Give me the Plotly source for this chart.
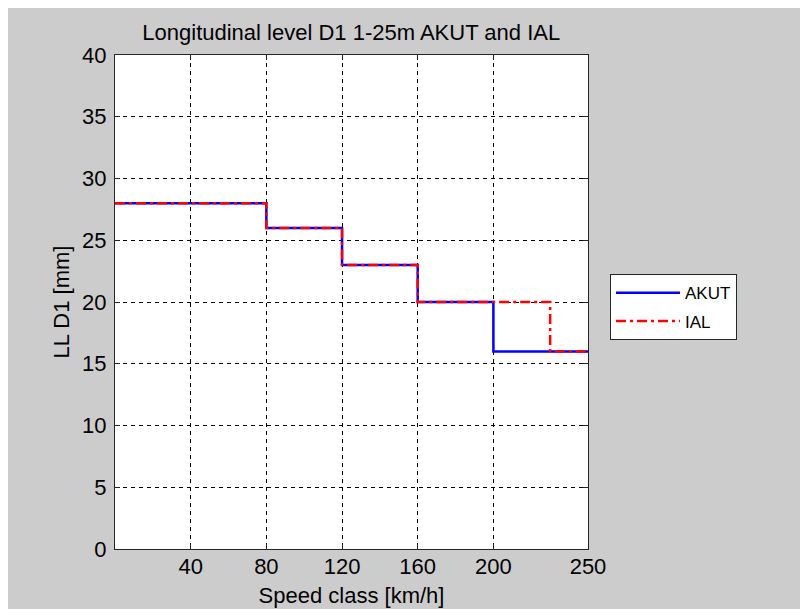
import plotly.graph_objects as go

# Data
speed_akut = [0, 80, 120, 160, 200, 250]
akut_values = [28, 26, 23, 20, 16, 16]
speed_ial = [0, 80, 120, 160, 230, 250]
ial_values = [28, 26, 23, 20, 16, 16]
x_ticks = [40, 80, 120, 160, 200, 250]
y_ticks = [0, 5, 10, 15, 20, 25, 30, 35, 40]

FONT = "Liberation Sans, Arial, sans-serif"
W, H = 800, 601
L, R, T, B = 106.5, 220, 46.5, 60
pw = W - L - R
ph = H - T - B

fig = go.Figure()
fig.add_trace(go.Scatter(x=speed_akut, y=akut_values, mode="lines", name="AKUT",
                         legendgroup="a",
                         line=dict(color="#0000ff", width=2.5, shape="hv")))
fig.add_trace(go.Scatter(x=speed_ial, y=ial_values, mode="lines", name="IAL",
                         legendgroup="b",
                         line=dict(color="#ff0000", width=2.5, shape="hv", dash="10px,4px,3px,4px")))

def px2paper_x(px):
    return (px - L) / pw

def px2paper_y(py):
    return (H - B - py) / ph

axis_common = dict(
    showline=True, linecolor="#262626", linewidth=1, mirror="ticks",
    ticks="inside", ticklen=5, tickcolor="#262626", tickwidth=1,
    showgrid=True, gridcolor="#000000", gridwidth=1, griddash="4px,4px",
    zeroline=False, automargin=False,
    tickfont=dict(family=FONT, size=22, color="#000000"),
)

fig.update_layout(
    width=W, height=H,
    margin=dict(l=L, r=R, t=T, b=B),
    paper_bgcolor="#cccccc",
    plot_bgcolor="white",
    title=dict(text="Longitudinal level D1 1-25m AKUT and IAL", x=(L + pw / 2) / W,
               xanchor="center", y=1 - 24 / H, yanchor="middle",
               font=dict(family=FONT, size=22, color="#000000")),
    xaxis=dict(range=[0, 250], tickvals=x_ticks, ticktext=[str(v) for v in x_ticks],
               title=dict(text="Speed class [km/h]", font=dict(family=FONT, size=22, color="#000000"), standoff=9),
               ticklabelstandoff=-2, **axis_common),
    yaxis=dict(range=[0, 40], tickvals=y_ticks,
               title=dict(text="LL D1 [mm]", font=dict(family=FONT, size=22, color="#000000"), standoff=6),
               ticklabelstandoff=3, **axis_common),
    legend=dict(x=px2paper_x(602), y=px2paper_y(266), xanchor="left", yanchor="top",
                bgcolor="white", bordercolor="#262626", borderwidth=1,
                font=dict(family=FONT, size=17, color="#000000"),
                tracegroupgap=3, itemwidth=64),
    showlegend=True,
)

fig.write_html("out.html")
